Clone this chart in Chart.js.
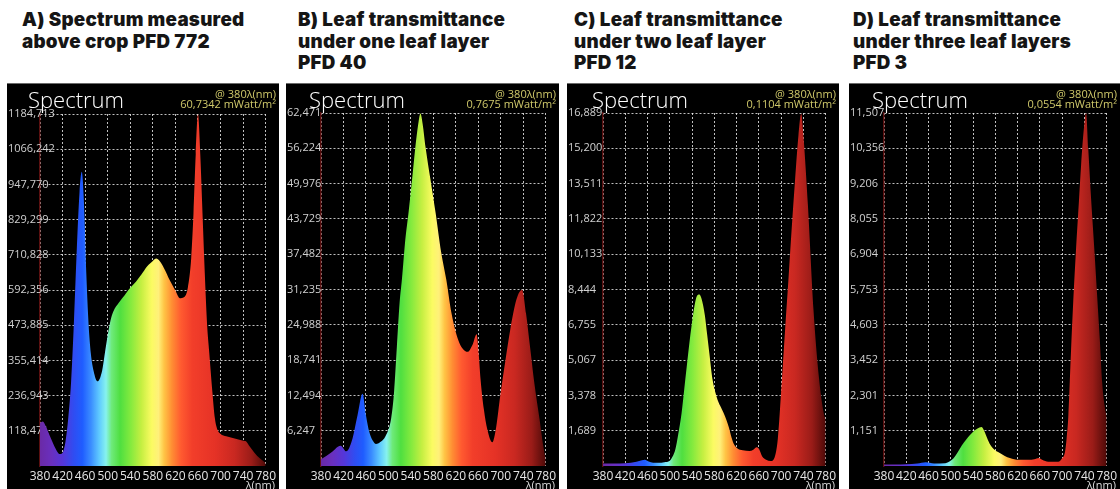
<!DOCTYPE html>
<html><head><meta charset="utf-8">
<script src="https://cdn.jsdelivr.net/npm/chart.js@4.4.1/dist/chart.umd.min.js"></script>
<style>
html,body{margin:0;padding:0;background:#fff;width:1120px;height:489px;overflow:hidden;}
.head{position:absolute;top:9px;font-family:Inter,"Noto Sans",sans-serif;font-weight:900;font-size:18.8px;line-height:21.5px;color:#151515;letter-spacing:0.25px;white-space:nowrap;}
.panel{position:absolute;top:83px;height:406px;background:#000;}
canvas{display:block;}
</style></head><body>
<div class="head" style="left:22px">A) Spectrum measured<br>above crop PFD 772</div>
<div class="head" style="left:298px">B) Leaf transmittance<br>under one leaf layer<br>PFD 40</div>
<div class="head" style="left:574px">C) Leaf transmittance<br>under two leaf layer<br>PFD 12</div>
<div class="head" style="left:853px">D) Leaf transmittance<br>under three leaf layers<br>PFD 3</div>
<div class="panel" id="pA" style="left:7px;width:272px"><canvas id="cA" width="272" height="406"></canvas></div>
<div class="panel" id="pB" style="left:286px;width:273px"><canvas id="cB" width="273" height="406"></canvas></div>
<div class="panel" id="pC" style="left:567px;width:272px"><canvas id="cC" width="272" height="406"></canvas></div>
<div class="panel" id="pD" style="left:849px;width:271px"><canvas id="cD" width="271" height="406"></canvas></div>
<script>
// ---- data ----
const xTicks = [380,420,460,500,540,580,620,660,700,740,780];

const wlA  = [380,385,390,400,410,415,420,425,430,435,440,445,450,454,458,462,466,470,475,482,490,495,500,505,510,520,530,540,550,560,570,580,586,592,600,610,620,628,635,642,648,652,656,660,664,668,672,676,680,685,690,695,700,710,720,730,740,745,750,760,770,780];
const valA = [145,150,135,90,50,40,45,80,160,280,480,720,920,990,880,650,480,380,320,285,320,380,440,490,520,550,575,600,620,645,672,690,698,690,665,625,590,565,568,600,700,850,1050,1184,1050,850,650,480,380,260,160,120,108,100,95,90,85,83,70,45,25,10];
const yTicksA = ['118,471','236,943','355,414','473,885','592,356','710,828','829,299','947,770','1066,242','1184,713'];

const wlB  = [380,390,400,410,415,425,435,445,454,460,466,472,478,485,495,505,510,515,520,524,530,536,542,548,553,557,561,566,575,584,594,603,612,624,632,641,650,657,661,664,670,676,685,692,699,708,717,728,738,745,752,760,769,775,780];
const valB = [1.2,1.8,2.5,3.4,3.6,2.6,4.5,9,12.8,9,6,4.5,3.9,4.2,5.3,8.5,13,21,29,33,40,45,50.6,56.5,60.5,62.4,60.5,56.5,50.6,44.8,37.8,33,27.2,22.4,20.8,20.2,21.5,23.3,19.5,15.4,10,6.5,4.2,7,12.4,18.5,24.2,29.5,31.2,27,21.2,14.5,8.3,4,1.2];
const yTicksB = ['6,247','12,494','18,741','24,988','31,235','37,482','43,729','49,976','56,224','62,471'];

const wlC  = [380,400,420,440,450,455,462,470,480,490,500,505,510,515,521,526,531,539,547,553,557,563,567,571,577,582,586,592,598,606,611,615,621,631,643,650,656,660,666,673,681,688,694,701,707,713,719,725,731,736,740,748,758,768,776,780];
const valC = [0.12,0.12,0.13,0.2,0.28,0.3,0.22,0.16,0.15,0.18,0.25,0.45,0.8,1.5,2.5,3.7,4.9,6.7,8.0,8.2,8.0,7.2,6.3,5.4,4.1,3.5,3.15,2.8,2.45,1.85,1.35,1.05,0.85,0.75,0.72,0.78,0.9,0.82,0.45,0.3,0.24,0.4,1.3,4.0,6.5,8.9,11.4,13.7,15.8,16.85,15.8,12.5,7.5,4.2,2.6,2.2];
const yTicksC = ['1,689','3,378','5,067','6,755','8,444','10,133','11,822','13,511','15,200','16,889'];

const wlD  = [380,400,420,440,455,470,490,502,508,514,520,527,534,541,548,555,560,565,570,576,588,597,606,622,640,650,658,664,675,693,700,705,708,711,716,720,725,730,734,739,743,747,752,758,763,768,772,776,780];
const valD = [0.05,0.05,0.06,0.08,0.12,0.08,0.09,0.2,0.33,0.5,0.68,0.85,1.0,1.13,1.22,1.27,1.14,0.92,0.72,0.57,0.42,0.33,0.26,0.2,0.2,0.22,0.26,0.2,0.14,0.14,0.25,0.45,0.9,1.6,3.8,5.4,7.1,8.6,9.8,11.0,11.5,10.3,8.7,7.0,5.5,4.0,2.7,2.0,1.6];
const yTicksD = ['1,151','2,301','3,452','4,603','5,753','6,904','8,055','9,206','10,356','11,507'];

const irradiance = ['60,7342','0,7675','0,1104','0,0554'];

// ---- style ----
const spectrumStops = [
  [380,'#6a2aa6'],[400,'#6a2fbe'],[420,'#5636d8'],[440,'#2f4df2'],[455,'#1f5cff'],
  [470,'#3a8cff'],[485,'#5fcaff'],[497,'#86f2ee'],[507,'#6eea7a'],[522,'#4fdf40'],
  [540,'#82ea3e'],[560,'#c6ef42'],[578,'#fbfb62'],[590,'#fff07a'],[600,'#ffc445'],
  [614,'#ff8d33'],[630,'#ff5a30'],[650,'#f23e2a'],[690,'#e53226'],[725,'#c92821'],
  [755,'#9a1c18'],[780,'#4e0a08']
];

function parseNum(s){ return parseFloat(s.replace(',','.')); }

const panelPlugin = {
  id:'panelDeco',
  beforeDraw(chart){
    const c = chart.ctx;
    c.save(); c.fillStyle='#000'; c.fillRect(0,0,chart.width,chart.height);
    c.fillStyle='#6a6a6a'; c.fillRect(0,0,chart.width,1);
    c.restore();
  },
  afterDraw(chart){
    const o = chart.options.plugins.panelDeco;
    const c = chart.ctx, W = chart.width;
    c.save();
    c.fillStyle='#ffffff';
    c.font='300 22px "Open Sans", "Noto Sans", sans-serif';
    c.textBaseline='alphabetic'; c.textAlign='left';
    c.fillText('Spectrum', o.titleX, 25);
    c.fillStyle='#cfc86a';
    c.font='11px "Open Sans", "Noto Sans", sans-serif';
    c.textAlign='right'; c.textBaseline='middle';
    c.fillText('@ 380\u03bb(nm)', W-3, 12);
    c.fillText(o.irr + ' mWatt/m\u00b2', W-3, 22);
    c.fillStyle='#dddddd';
    c.font='11px "Open Sans", "Noto Sans", sans-serif';
    c.fillText('\u03bb(nm)', W-4, 403);
    c.restore();
  }
};

function makeChart(id, wl, vals, yLabels, irr, lay){
  const yVals = yLabels.map(parseNum);
  const pts = wl.map((w,i)=>({x:w, y:vals[i]}));
  return new Chart(document.getElementById(id), {
    type:'line',
    data:{datasets:[{
      data:pts, borderWidth:0, pointRadius:0, fill:'origin',
      tension:0.4, cubicInterpolationMode:'monotone',
      backgroundColor:(ctx)=>{
        const ch = ctx.chart; if(!ch.chartArea) return '#f00';
        const x0 = ch.scales.x.getPixelForValue(380), x1 = ch.scales.x.getPixelForValue(780);
        const g = ch.ctx.createLinearGradient(x0,0,x1,0);
        spectrumStops.forEach(s=>g.addColorStop((s[0]-380)/400, s[1]));
        return g;
      }
    }]},
    options:{
      responsive:false, devicePixelRatio:1, animation:false,
      layout:{padding:{left:0, top:lay.top, right:lay.right, bottom:0}},
      plugins:{legend:{display:false}, tooltip:{enabled:false}, title:{display:false},
        panelDeco:{titleX:lay.titleX, irr:irr}},
      scales:{
        x:{type:'linear', min:380, max:780, z:1,
          afterBuildTicks:(s)=>{ s.ticks = xTicks.map(v=>({value:v})); },
          afterFit:(s)=>{ s.height = lay.bottom; },
          grid:{color:'rgba(255,255,255,0.75)', lineWidth:1, drawTicks:false},
          border:{display:false, dash:[2,2]},
          ticks:{color:'#e6e6e6', font:{family:'"Open Sans", "Noto Sans", sans-serif', size:12}, padding:3, maxRotation:0, autoSkip:false}
        },
        y:{type:'linear', min:0, max:yVals[yVals.length-1], z:1,
          afterBuildTicks:(s)=>{ s.ticks = yVals.map(v=>({value:v})); },
          afterFit:(s)=>{ s.width = lay.left; },
          grid:{color:'rgba(255,255,255,0.75)', lineWidth:1, drawTicks:false},
          border:{display:true, color:'#5a1010', width:1.5, dash:[2,2]},
          ticks:{color:'#d0d0d0', font:{family:'"Open Sans", "Noto Sans", sans-serif', size:11},
            mirror:true, padding:-(lay.left-1),
            callback:(v,i)=>yLabels[i]}
        }
      }
    },
    plugins:[panelPlugin]
  });
}

const layouts = [
  {left:33, right:12, top:31, bottom:23, titleX:21},
  {left:35, right:10, top:30, bottom:23, titleX:23},
  {left:36, right:7,  top:30, bottom:23, titleX:25},
  {left:35, right:8,  top:30, bottom:23, titleX:23}
];
makeChart('cA', wlA, valA, yTicksA, irradiance[0], layouts[0]);
makeChart('cB', wlB, valB, yTicksB, irradiance[1], layouts[1]);
makeChart('cC', wlC, valC, yTicksC, irradiance[2], layouts[2]);
makeChart('cD', wlD, valD, yTicksD, irradiance[3], layouts[3]);
</script>
</body></html>
